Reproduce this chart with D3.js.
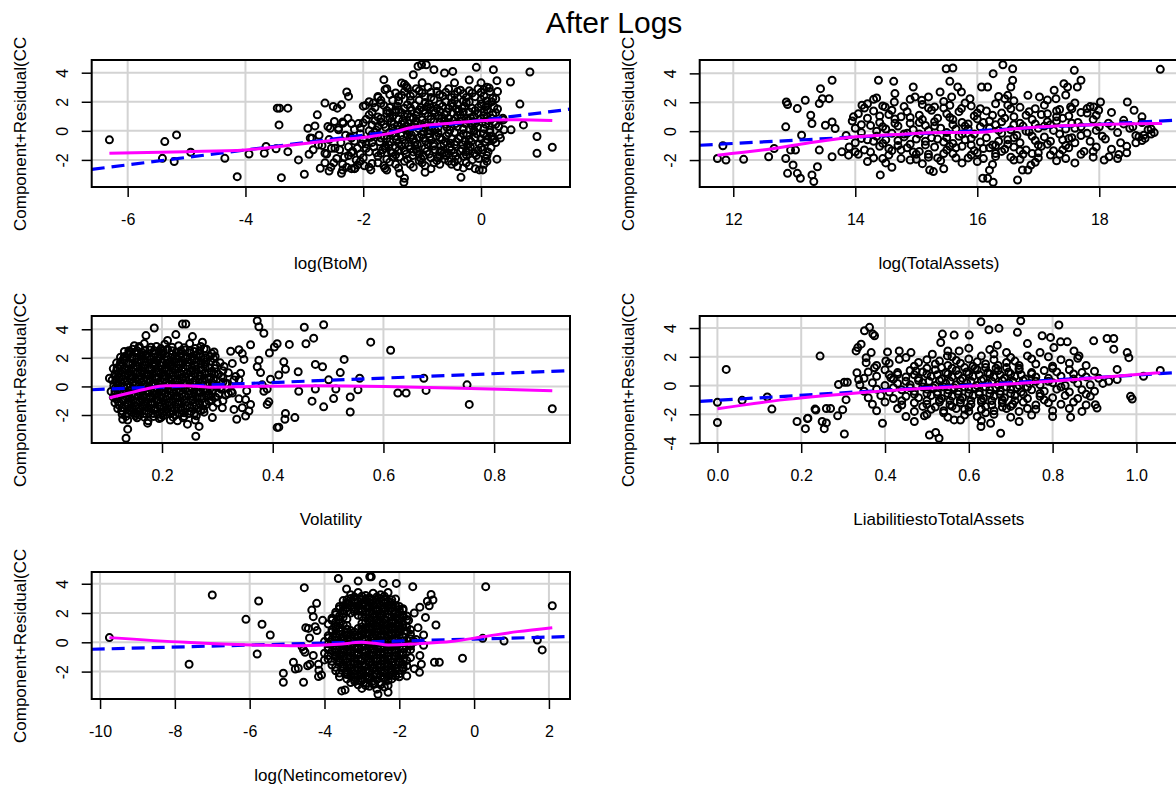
<!DOCTYPE html>
<html>
<head>
<meta charset="utf-8">
<script src="https://cdn.jsdelivr.net/npm/d3@7"></script>
<style>
  body { margin: 0; background: #fff; }
  svg { display: block; }
</style>
</head>
<body>
<svg id="chart" width="1176" height="785"></svg>
<script>
// ---- Component + residual data, one array per predictor ----
const chartTitle = "After Logs";
const yLabel = "Component+Residual(CC";

const btomLabel = "log(BtoM)";
const btomTicks = [-6, -4, -2, 0];
const btomFit = [0.72, 0.51];            // intercept, slope
const btomSmooth = [[-6.31,-1.54],[-5.01,-1.43],[-4.0,-1.31],[-3.21,-0.97],[-2.42,-0.62],[-1.86,-0.39],[-1.46,-0.09],[-1.24,0.18],[-0.96,0.37],[-0.51,0.53],[0,0.69],[0.62,0.76],[1.21,0.71]];
const btomPoints = [
[-6.31,-0.62],[-5.37,-0.74],[-5.17,-0.28],[-5.41,-1.89],[-5.21,-2.11],[-4.93,-1.47],[-4.35,-1.89],[-4.14,-3.15],[-3.94,-1.59],[-3.68,-1.54],[-3.65,-1.08],[-3.46,1.56],[-3.42,1.56],[-3.28,1.56],[-3.43,0.41],[-3.48,-1.24],[-3.28,-1.43],[-3.39,-3.22],[-3.10,-2.0],[-3.0,-2.99],[-2.92,-1.61],[-2.94,0.18],[-2.82,0.34],[-2.78,1.10],[-2.65,1.91],[-2.51,1.68],[-2.44,1.56],[-2.37,1.79],[-2.28,2.67],[-2.25,2.37],
[-2.73,-2.57],[-2.58,-2.76],[-2.37,-2.92],[-2.14,-2.57],[-1.87,-2.69],[-1.63,-2.57],[-2.87,-0.51],[-2.76,-0.97],[-2.65,-1.54],[-2.54,-1.2],[-2.56,0.18],[-2.49,0.64],[-2.42,0.07],[-2.34,0.53],[-2.26,0.87],[-1.96,1.75],[-1.83,1.91],[-1.75,2.37],[-1.63,2.83],[-1.65,3.52],
[-1.35,3.29],[-1.27,3.06],[-1.15,3.86],[-1.07,4.44],[-1.01,4.55],[-0.93,4.55],[-0.80,4.21],[-0.62,3.98],[-0.48,4.09],[-0.08,4.37],[0.21,4.21],[0.27,3.45],[0.50,3.36],[0.83,4.05],
[0.66,1.84],[0.72,0.41],[0.95,-0.39],[1.21,-1.13],[0.95,-1.54],[0.27,-1.95],[0.2,-0.62],[0.31,-0.28],[0.39,0.07],[0.51,0.07],[0.37,0.87],[0.14,2.94],[0.2,2.25],[0.28,2.71],
[-1.38,-2.92],[-1.31,-3.54],[-1.30,-3.26],[-0.34,-3.2],[-0.03,-2.69],[0.03,-2.69],
[-1.3,3.2],[-1.0,3.3],[-0.75,3.1],[-0.45,3.3],[-0.2,3.5],[0.0,3.3],[0.1,3.0],
[-1.6,2.9],[-1.45,2.6],[-1.3,2.7],[-1.2,2.4],[-1.1,2.9],[-1.0,2.6],[-0.9,3.0],[-0.85,2.3],[-0.75,2.7],[-0.65,2.4],[-0.55,2.9],[-0.45,2.5],[-0.35,2.8],[-0.25,2.3],[-0.15,2.6],[-0.05,2.9],[0.05,2.4],[0.15,2.7],[0.25,2.2],[-1.5,2.1],[-1.05,2.1],[-0.6,2.0],[-0.2,2.0],[0.1,2.05],[-1.75,2.3],[-1.9,2.0],
[-2.0,1.7],[-1.85,1.3],[-1.7,1.9],[-1.6,1.4],[-1.5,1.0],[-1.42,1.7],[-1.35,1.25],[-1.25,1.8],[-1.18,1.4],[-1.1,1.05],[-1.02,1.6],[-0.95,1.2],[-0.88,1.85],[-0.8,1.4],[-0.72,1.05],[-0.65,1.7],[-0.58,1.3],[-0.5,1.9],[-0.42,1.5],[-0.35,1.1],[-0.28,1.7],[-0.2,1.3],[-0.12,1.0],[-0.05,1.6],[0.05,1.3],[0.12,1.8],[0.2,1.1],[0.28,1.5],[-1.55,1.6],[-1.3,1.0],[-0.75,1.55],[-0.4,1.85],
[-2.2,0.5],[-2.05,0.2],[-1.95,0.8],[-1.85,0.4],[-1.78,0.05],[-1.7,0.6],[-1.62,0.25],[-1.55,0.9],[-1.48,0.45],[-1.4,0.1],[-1.33,0.7],[-1.26,0.3],[-1.2,0.95],[-1.13,0.5],[-1.06,0.15],[-1.0,0.75],[-0.93,0.35],[-0.87,0.0],[-0.8,0.6],[-0.73,0.2],[-0.67,0.85],[-0.6,0.45],[-0.53,0.05],[-0.47,0.7],[-0.4,0.3],[-0.33,0.9],[-0.27,0.5],[-0.2,0.1],[-0.13,0.65],[-0.06,0.25],[0.0,0.85],[0.08,0.45],[0.15,0.05],[0.22,0.6],[0.3,0.3],[0.38,0.75],[-1.9,0.0],[-1.35,0.45],[-0.98,0.25],[-0.55,0.55],[-0.15,0.35],
[-2.3,-0.3],[-2.15,-0.7],[-2.05,-0.2],[-1.95,-0.9],[-1.87,-0.45],[-1.8,-0.1],[-1.72,-0.75],[-1.65,-0.35],[-1.57,-0.95],[-1.5,-0.15],[-1.43,-0.6],[-1.36,-0.3],[-1.29,-0.85],[-1.22,-0.1],[-1.15,-0.55],[-1.08,-0.95],[-1.01,-0.25],[-0.94,-0.7],[-0.87,-0.4],[-0.8,-0.9],[-0.73,-0.15],[-0.66,-0.6],[-0.59,-0.35],[-0.52,-0.85],[-0.45,-0.1],[-0.38,-0.55],[-0.31,-0.95],[-0.24,-0.3],[-0.17,-0.75],[-0.1,-0.45],[-0.03,-0.9],[0.04,-0.2],[0.11,-0.6],[0.18,-0.35],[0.25,-0.8],[0.33,-0.5],[-1.6,-0.55],[-1.2,-0.45],[-0.9,-0.2],[-0.6,-0.75],[-0.3,-0.2],
[-2.4,-1.3],[-2.25,-1.7],[-2.1,-1.2],[-2.0,-1.85],[-1.9,-1.45],[-1.82,-1.1],[-1.75,-1.75],[-1.67,-1.3],[-1.6,-1.95],[-1.52,-1.5],[-1.45,-1.15],[-1.38,-1.8],[-1.3,-1.35],[-1.23,-1.05],[-1.16,-1.7],[-1.09,-1.4],[-1.02,-1.9],[-0.95,-1.2],[-0.88,-1.6],[-0.81,-1.05],[-0.74,-1.85],[-0.67,-1.35],[-0.6,-1.7],[-0.53,-1.15],[-0.46,-1.5],[-0.39,-1.95],[-0.32,-1.25],[-0.25,-1.65],[-0.18,-1.1],[-0.11,-1.55],[-0.04,-1.9],[0.03,-1.3],[0.1,-1.7],[0.17,-1.15],[-1.5,-1.5],[-1.1,-1.25],[-0.7,-1.45],[-0.3,-1.75],
[-2.35,-2.3],[-2.2,-2.6],[-2.05,-2.1],[-1.9,-2.5],[-1.75,-2.2],[-1.6,-2.7],[-1.45,-2.3],[-1.3,-2.1],[-1.15,-2.5],[-1.0,-2.2],[-0.85,-2.6],[-0.7,-2.3],[-0.55,-2.1],[-0.4,-2.45],[-0.25,-2.2],[-0.1,-2.6],[0.05,-2.3],[-0.95,-2.85],
[-2.75,-0.3],[-2.7,-1.0],[-2.62,-1.6],[-2.58,-0.6],[-2.5,-2.2],[-2.48,-1.2],[-2.42,0.2],[-2.38,-0.8],[-2.32,-1.8],[-2.28,-2.5],[-2.22,-0.4],[-2.18,-1.4],[-2.12,-2.0],[-2.08,0.5],[-2.02,-0.9],[-1.98,-2.4],[-2.55,-2.5],[-2.35,-2.7],[-2.15,-2.6],[-2.65,-2.2],[-2.45,-1.9],[-2.25,-1.1],[-2.6,0.3],[-2.35,0.6],[-2.15,0.1],[-2.9,-0.5],[-2.85,-1.3],
[-1.4,2.35],[-1.15,2.55],[-0.95,2.35],[-0.7,2.5],[-0.5,2.3],[-0.3,2.55],[-0.1,2.35],[0.0,2.65],
[-1.8,1.6],[-1.65,1.75],[-1.45,1.45],[-1.3,1.55],[-1.12,1.75],[-0.98,1.4],[-0.85,1.6],[-0.7,1.85],[-0.55,1.55],[-0.38,1.35],[-0.25,1.95],[-0.15,1.55],[0.0,1.85],[0.1,1.45],[0.22,1.65],
[-1.9,1.1],[-1.75,0.95],[-1.6,1.2],[-1.45,1.3],[-1.25,1.15],[-1.08,1.3],[-0.9,1.0],[-0.78,1.25],[-0.62,1.1],[-0.48,1.25],[-0.3,1.3],[-0.18,0.9],[-0.05,1.2],[0.1,1.0],[0.25,1.25],
[-2.0,0.55],[-1.8,0.7],[-1.65,0.45],[-1.52,0.65],[-1.42,0.35],[-1.3,0.55],[-1.18,0.25],[-1.1,0.7],[-0.95,0.55],[-0.83,0.3],[-0.7,0.6],[-0.58,0.25],[-0.43,0.5],[-0.3,0.15],[-0.22,0.7],[-0.1,0.5],[0.05,0.15],[0.12,0.7],[0.25,0.45],
[-2.2,-0.5],[-2.0,-0.6],[-1.85,-0.25],[-1.7,-0.5],[-1.55,-0.75],[-1.45,-0.35],[-1.33,-0.6],[-1.25,-0.3],[-1.12,-0.8],[-1.05,-0.45],[-0.97,-0.05],[-0.85,-0.65],[-0.76,-0.35],[-0.63,-0.9],[-0.55,-0.15],[-0.42,-0.75],[-0.35,-0.4],[-0.2,-0.6],[-0.07,-0.2],[0.07,-0.75],[0.15,-0.1],[0.22,-0.55],
[-2.2,-1.5],[-2.05,-1.6],[-1.95,-1.2],[-1.78,-1.5],[-1.63,-1.2],[-1.5,-1.8],[-1.4,-1.35],[-1.27,-1.6],[-1.2,-1.25],[-1.05,-1.6],[-0.92,-1.4],[-0.85,-1.85],[-0.78,-1.3],[-0.63,-1.55],[-0.5,-1.3],[-0.43,-1.75],[-0.35,-1.4],[-0.2,-1.35],[-0.08,-1.7],[0.0,-1.15],[0.12,-1.45],
[-2.1,-2.35],[-1.85,-2.25],[-1.65,-2.4],[-1.4,-2.55],[-1.2,-2.3],[-0.95,-2.4],[-0.75,-2.05],[-0.5,-2.3],[-0.3,-2.55],[-0.15,-2.0],[0.1,-2.1],
[-1.55,2.5],[-1.35,2.45],[-1.25,2.95],[-1.05,2.75],[-0.85,2.65],[-0.6,2.65],[-0.4,2.7],[-0.2,2.75],[0.05,2.85],
[-1.7,2.1],[-1.4,2.05],[-1.2,2.1],[-0.95,1.95],[-0.8,2.15],[-0.45,2.1],[-0.3,2.05],[0.0,2.15],[0.18,2.0],
[-1.55,1.25],[-1.4,1.45],[-1.2,1.6],[-1.05,1.45],[-0.92,1.65],[-0.7,1.35],[-0.48,1.7],[-0.32,1.55],[-0.1,1.4],[0.08,1.65],
[-1.7,0.85],[-1.4,0.8],[-1.15,0.85],[-0.85,0.8],[-0.55,0.85],[-0.4,1.05],[-0.25,0.85],[0.05,1.05],[0.18,0.85],
[-1.75,0.3],[-1.5,0.2],[-1.25,0.05],[-1.02,0.45],[-0.78,0.05],[-0.62,0.7],[-0.35,0.6],[-0.12,0.05],[0.02,0.6],
[-1.75,-0.3],[-1.55,-0.1],[-1.4,-0.85],[-1.18,-0.3],[-0.98,-0.5],[-0.7,-0.45],[-0.5,-0.55],[-0.27,-0.7],[-0.12,-0.05],[0.1,-0.35],
[-1.85,-0.8],[-1.62,-1.05],[-1.35,-1.05],[-1.12,-1.05],[-0.9,-0.95],[-0.68,-1.05],[-0.45,-0.95],[-0.22,-0.95],[0.0,-0.55],
[-1.7,-1.55],[-1.45,-1.65],[-1.15,-1.45],[-0.98,-1.75],[-0.7,-1.75],[-0.55,-1.55],[-0.25,-1.45],[-0.05,-1.35],[0.08,-1.9],
[-1.55,-2.15],[-1.25,-1.95],[-1.05,-2.05],[-0.8,-2.2],[-0.62,-1.95],[-0.45,-2.15],[-0.2,-2.4]
];

const assetsLabel = "log(TotalAssets)";
const assetsTicks = [12, 14, 16, 18];
const assetsFit = [-3.516, 0.222];
const assetsSmooth = [[11.74,-1.66],[12.48,-1.31],[13.18,-0.85],[14.0,-0.39],[14.65,-0.23],[15.47,-0.09],[16.0,-0.09],[16.55,0.14],[17.37,0.37],[18.18,0.48],[19.03,0.53]];
const assetsPoints = [
[11.74,-1.89],[11.88,-2.0],[11.83,-1.01],[12.17,-1.95],[12.58,-1.77],[12.67,-1.2],[12.86,0.30],[12.87,2.02],[12.89,1.84],[12.86,-1.89],[12.89,-2.92],[12.98,-2.34],[13.05,-2.92],[13.10,-3.26],[13.02,-1.31],[12.94,-1.31],[13.12,-0.28],
[13.05,1.56],[13.18,2.14],[13.27,1.10],[13.29,0.53],[13.43,2.94],[13.41,1.91],[13.46,2.25],[13.57,2.25],[13.62,3.52],[13.51,0.41],[13.62,0.64],[13.67,0.18],[13.41,-1.31],[13.62,-1.77],[13.32,-3.49],[13.38,-2.46],[13.29,-3.03],
[13.78,-1.43],[13.89,-1.66],[14.0,-1.43],[13.97,0.99],[14.11,1.79],[14.38,3.52],[14.63,3.45],[14.35,2.30],[14.49,1.68],[14.65,2.60],[14.64,2.02],[14.95,3.06],[14.98,2.37],[15.09,2.14],[15.2,2.37],[15.3,1.68],[15.39,2.71],[15.49,4.32],[15.6,4.37],[15.55,3.45],[15.68,3.06],[15.74,2.71],[15.58,2.37],[15.88,2.25],[15.74,1.56],[15.55,1.79],
[15.22,-2.69],[15.28,-2.80],[14.41,-3.03],
[16.07,3.06],[16.17,3.06],[16.26,3.98],[16.42,4.60],[16.58,4.32],[16.58,3.52],[16.55,3.06],[16.5,2.48],[16.45,2.25],
[16.09,-3.26],[16.26,-3.54],[16.17,-3.26],[16.66,-3.38],[16.74,-2.69],[16.88,-2.34],[16.83,-2.69],
[16.83,2.48],[17.02,2.37],[17.26,2.83],[17.29,2.25],[17.42,3.29],[17.48,3.06],[17.59,4.21],[17.7,3.52],[17.64,3.06],[17.53,1.68],
[17.8,1.56],[17.91,1.68],[18.02,2.02],[17.99,1.45],[18.46,2.02],[18.57,1.45],[18.7,0.99],
[18.08,-2.0],[18.16,-1.77],[18.32,-1.61],[19.0,4.28],[18.65,-0.39],[18.73,-0.28],
[18.4,0.5],[18.55,0.3],[18.7,0.6],[18.85,0.15],[18.9,-0.1],[18.75,-0.5],[18.6,-0.8],[18.45,-1.5],[18.3,-1.9],
[14.2,1.9],[14.8,1.7],[15.1,1.85],[15.45,1.6],[15.9,1.75],[16.3,1.9],[16.7,1.65],[17.1,1.8],[17.35,1.5],[17.6,1.95],[17.85,1.7],
[14.05,1.2],[14.3,1.4],[14.55,1.15],[14.85,1.35],[15.05,1.1],[15.25,1.45],[15.5,1.2],[15.7,1.35],[15.95,1.05],[16.15,1.4],[16.4,1.25],[16.6,1.0],[16.85,1.35],[17.05,1.15],[17.3,1.4],[17.5,1.05],[17.7,1.3],[17.95,1.1],[18.2,1.3],
[13.95,0.7],[14.2,0.9],[14.4,0.6],[14.65,0.85],[14.9,0.55],[15.1,0.8],[15.3,0.65],[15.55,0.95],[15.75,0.6],[16.0,0.85],[16.2,0.7],[16.45,0.9],[16.7,0.55],[16.9,0.8],[17.15,0.65],[17.4,0.9],[17.65,0.6],[17.9,0.8],[18.15,0.55],[18.4,0.75],
[14.0,0.2],[14.25,0.4],[14.5,0.15],[14.7,0.35],[14.95,0.1],[15.15,0.4],[15.4,0.2],[15.6,0.45],[15.85,0.15],[16.05,0.3],[16.3,0.45],[16.55,0.1],[16.75,0.35],[17.0,0.2],[17.2,0.45],[17.45,0.15],[17.7,0.3],[17.95,0.05],[18.2,0.35],[18.5,0.2],[18.8,0.1],
[13.85,-0.3],[14.1,-0.1],[14.35,-0.35],[14.6,-0.15],[14.8,-0.4],[15.05,-0.2],[15.25,-0.45],[15.5,-0.1],[15.7,-0.35],[15.95,-0.2],[16.15,-0.45],[16.4,-0.15],[16.65,-0.3],[16.85,-0.05],[17.1,-0.4],[17.35,-0.2],[17.55,-0.45],[17.8,-0.15],[18.05,-0.35],[18.3,-0.1],[18.6,-0.3],[18.85,-0.2],
[14.0,-0.8],[14.2,-0.6],[14.45,-0.85],[14.7,-0.65],[14.9,-0.9],[15.15,-0.7],[15.35,-0.55],[15.6,-0.85],[15.8,-0.6],[16.05,-0.75],[16.25,-0.95],[16.5,-0.6],[16.7,-0.8],[16.95,-0.65],[17.15,-0.9],[17.4,-0.6],[17.6,-0.8],[17.85,-0.7],[18.1,-0.55],[18.35,-0.8],[18.7,-0.65],
[13.9,-1.1],[14.15,-1.3],[14.4,-1.05],[14.6,-1.35],[14.85,-1.15],[15.05,-1.4],[15.3,-1.1],[15.5,-1.3],[15.75,-1.05],[15.95,-1.35],[16.2,-1.15],[16.4,-1.4],[16.6,-1.1],[16.8,-1.3],[17.05,-1.05],[17.25,-1.35],[17.5,-1.15],[17.75,-1.4],[17.95,-1.1],[18.2,-1.25],[18.45,-1.05],
[14.05,-1.6],[14.3,-1.85],[14.55,-1.65],[14.75,-1.9],[15.0,-1.6],[15.2,-1.8],[15.45,-1.55],[15.65,-1.85],[15.9,-1.65],[16.1,-1.9],[16.3,-1.55],[16.55,-1.8],[16.75,-1.6],[17.0,-1.85],[17.2,-1.65],[17.45,-1.9],[17.7,-1.6],[17.9,-1.8],
[14.2,-2.1],[14.5,-2.2],[14.9,-2.0],[15.1,-2.25],[15.4,-2.05],[15.75,-2.2],[16.0,-2.1],[16.25,-2.3],[16.6,-2.0],[16.95,-2.15],[17.3,-2.05],[17.6,-2.2],
[14.6,-2.5],[15.45,-2.6],[16.2,-2.7],[14.35,0.0],[15.0,-0.55],[15.85,0.5],[16.35,-0.7],[14.75,-1.3],[15.6,-1.55],[16.55,1.55],[17.25,0.05],
[14.15,1.6],[14.45,1.75],[14.6,1.45],[15.2,1.6],[15.8,1.95],[16.05,1.55],[16.5,1.8],[16.95,1.55],
[14.1,-0.5],[14.5,-0.6],[14.65,0.55],[15.2,0.05],[15.45,-0.75],[15.9,-0.95],[16.1,0.6],[16.35,0.05],[16.6,-0.45],[16.95,0.5],[17.5,-0.5],[17.3,0.7],
[14.25,-1.45],[14.7,-1.0],[15.2,-1.6],[15.55,-1.05],[16.0,-1.5],[16.45,-1.25],[16.9,-1.55],[17.35,-1.6],
[14.4,1.05],[14.9,0.95],[15.35,0.9],[15.65,0.15],[16.25,1.1],[16.8,0.0],[17.15,1.2],[17.6,0.2],[17.55,1.55],[17.4,-1.3],[16.7,-1.95],[15.85,-1.85],[15.0,-1.95],[14.45,-1.9],[14.85,-0.15],[15.75,-0.2],[16.3,-1.0],[17.0,-0.95],
[14.1,0.45],[14.3,-0.7],[14.45,0.3],[14.55,-1.2],[14.75,1.0],[14.8,-0.2],[14.95,-1.45],[15.05,0.6],[15.15,-0.95],[15.3,0.35],[15.35,-1.85],[15.5,-0.45],[15.6,0.8],[15.65,-1.15],[15.8,0.35],[15.9,-0.5],[16.0,1.25],[16.1,-1.2],[16.2,0.2],[16.3,-1.75],[16.4,0.65],[16.5,-0.9],[16.6,0.45],[16.7,-1.35],[16.8,1.1],[16.9,-0.35],[17.0,-1.5],[17.1,0.35],[17.2,-0.7],[17.3,1.0],[17.45,-1.0],[17.55,0.55],[17.7,-0.3],[17.8,1.25],[17.9,-1.4],[18.0,0.3],
[14.3,2.2],[14.9,2.2],[15.45,2.05],[16.35,2.4],[16.6,2.1],[17.15,2.15],[17.45,2.5]
];

const volLabel = "Volatility";
const volTicks = [0.2, 0.4, 0.6, 0.8];
const volFit = [-0.345, 1.55];
const volSmooth = [[0.105,-0.80],[0.141,-0.46],[0.171,-0.18],[0.207,0.05],[0.243,0.05],[0.291,-0.05],[0.363,0],[0.483,0.05],[0.602,0],[0.722,-0.11],[0.905,-0.30]];
const volPoints = [
[0.105,0.57],[0.186,4.09],[0.237,4.37],[0.243,4.37],[0.171,3.56],[0.225,3.63],[0.255,3.49],[0.159,2.80],[0.141,2.41],[0.21,3.22],[0.273,3.10],[0.294,2.41],[0.276,2.64],
[0.135,-3.63],[0.138,-2.99],[0.129,-2.30],[0.174,-2.57],[0.198,-2.18],[0.228,-2.41],[0.246,-2.64],[0.261,-3.49],[0.267,-2.80],[0.291,-2.18],[0.309,-1.49],
[0.15,2.85],[0.168,3.0],[0.19,2.8],[0.205,2.95],[0.23,2.85],[0.25,3.0],[0.27,2.8],
[0.132,2.45],[0.147,2.6],[0.163,2.4],[0.178,2.55],[0.194,2.45],[0.21,2.6],[0.226,2.4],[0.242,2.55],[0.258,2.45],[0.28,2.6],
[0.125,2.05],[0.139,2.2],[0.154,2.0],[0.17,2.15],[0.185,2.05],[0.2,2.2],[0.216,2.0],[0.231,2.15],[0.246,2.05],[0.262,2.2],[0.278,2.0],[0.296,2.1],
[0.118,1.65],[0.132,1.8],[0.147,1.6],[0.162,1.75],[0.177,1.65],[0.192,1.8],[0.208,1.6],[0.223,1.75],[0.238,1.65],[0.254,1.8],[0.27,1.6],[0.288,1.75],[0.305,1.65],
[0.112,1.25],[0.125,1.4],[0.14,1.2],[0.155,1.35],[0.17,1.25],[0.185,1.4],[0.2,1.2],[0.215,1.35],[0.23,1.25],[0.246,1.4],[0.262,1.2],[0.278,1.35],[0.295,1.25],[0.312,1.4],
[0.115,0.85],[0.13,1.0],[0.145,0.8],[0.16,0.95],[0.175,0.85],[0.19,1.0],[0.205,0.8],[0.22,0.95],[0.236,0.85],[0.252,1.0],[0.268,0.8],[0.285,0.95],[0.302,0.85],[0.32,0.95],
[0.11,0.45],[0.123,0.6],[0.137,0.4],[0.152,0.55],[0.167,0.45],[0.182,0.6],[0.197,0.4],[0.212,0.55],[0.228,0.45],[0.243,0.6],[0.259,0.4],[0.276,0.55],[0.293,0.45],[0.31,0.6],[0.33,0.45],
[0.113,0.05],[0.128,0.2],[0.143,0.0],[0.158,0.15],[0.173,0.05],[0.188,0.2],[0.203,0.0],[0.218,0.15],[0.234,0.05],[0.25,0.2],[0.266,0.0],[0.282,0.15],[0.3,0.05],[0.318,0.2],
[0.108,-0.35],[0.121,-0.2],[0.135,-0.4],[0.15,-0.25],[0.165,-0.35],[0.18,-0.2],[0.195,-0.4],[0.21,-0.25],[0.226,-0.35],[0.242,-0.2],[0.258,-0.4],[0.274,-0.25],[0.29,-0.35],[0.307,-0.2],[0.325,-0.35],
[0.112,-0.75],[0.127,-0.6],[0.142,-0.8],[0.157,-0.65],[0.172,-0.75],[0.187,-0.6],[0.202,-0.8],[0.217,-0.65],[0.232,-0.75],[0.248,-0.6],[0.264,-0.8],[0.28,-0.65],[0.297,-0.75],[0.315,-0.6],
[0.115,-1.15],[0.13,-1.0],[0.145,-1.2],[0.16,-1.05],[0.175,-1.15],[0.19,-1.0],[0.205,-1.2],[0.22,-1.05],[0.236,-1.15],[0.252,-1.0],[0.268,-1.2],[0.285,-1.05],[0.3,-1.15],
[0.12,-1.55],[0.135,-1.4],[0.15,-1.6],[0.165,-1.45],[0.18,-1.55],[0.195,-1.4],[0.21,-1.6],[0.226,-1.45],[0.242,-1.55],[0.258,-1.4],[0.275,-1.6],[0.292,-1.45],
[0.128,-1.95],[0.145,-1.8],[0.16,-2.0],[0.176,-1.85],[0.192,-1.95],[0.208,-1.8],[0.224,-2.0],[0.24,-1.85],[0.258,-1.95],[0.276,-1.8],
[0.138,-2.35],[0.155,-2.2],[0.175,-2.4],[0.195,-2.25],[0.215,-2.35],[0.238,-2.2],[0.26,-2.35],
[0.158,2.7],[0.18,2.75],[0.198,2.65],[0.218,2.75],[0.24,2.7],[0.26,2.65],
[0.14,2.3],[0.155,2.35],[0.171,2.25],[0.186,2.3],[0.202,2.35],[0.218,2.25],[0.234,2.3],[0.25,2.35],[0.268,2.25],[0.29,2.3],
[0.13,1.9],[0.146,1.95],[0.162,1.85],[0.178,1.9],[0.194,1.95],[0.21,1.85],[0.226,1.9],[0.242,1.95],[0.258,1.85],[0.275,1.9],[0.293,1.95],
[0.125,1.5],[0.139,1.55],[0.154,1.45],[0.169,1.5],[0.184,1.55],[0.2,1.45],[0.215,1.5],[0.23,1.55],[0.245,1.45],[0.26,1.5],[0.277,1.55],[0.297,1.5],
[0.118,1.1],[0.133,1.15],[0.148,1.05],[0.163,1.1],[0.178,1.15],[0.193,1.05],[0.208,1.1],[0.223,1.15],[0.239,1.05],[0.255,1.1],[0.271,1.15],[0.29,1.05],[0.31,1.1],
[0.116,0.7],[0.131,0.75],[0.146,0.65],[0.161,0.7],[0.176,0.75],[0.191,0.65],[0.206,0.7],[0.221,0.75],[0.237,0.65],[0.253,0.7],[0.27,0.75],[0.288,0.65],[0.307,0.7],
[0.118,0.3],[0.133,0.35],[0.148,0.25],[0.163,0.3],[0.178,0.35],[0.193,0.25],[0.208,0.3],[0.224,0.35],[0.24,0.25],[0.256,0.3],[0.273,0.35],[0.291,0.25],[0.31,0.3],
[0.116,-0.1],[0.131,-0.05],[0.146,-0.15],[0.161,-0.1],[0.176,-0.05],[0.191,-0.15],[0.206,-0.1],[0.222,-0.05],[0.238,-0.15],[0.254,-0.1],[0.27,-0.05],[0.287,-0.15],[0.305,-0.1],
[0.115,-0.5],[0.13,-0.45],[0.145,-0.55],[0.16,-0.5],[0.175,-0.45],[0.19,-0.55],[0.205,-0.5],[0.22,-0.45],[0.236,-0.55],[0.252,-0.5],[0.268,-0.45],[0.285,-0.55],[0.303,-0.5],
[0.118,-0.9],[0.133,-0.85],[0.148,-0.95],[0.163,-0.9],[0.178,-0.85],[0.193,-0.95],[0.208,-0.9],[0.224,-0.85],[0.24,-0.95],[0.256,-0.9],[0.272,-0.85],[0.29,-0.95],
[0.122,-1.3],[0.137,-1.25],[0.152,-1.35],[0.167,-1.3],[0.182,-1.25],[0.197,-1.35],[0.213,-1.3],[0.229,-1.25],[0.245,-1.35],[0.262,-1.3],[0.28,-1.25],
[0.127,-1.7],[0.142,-1.65],[0.157,-1.75],[0.172,-1.7],[0.187,-1.65],[0.203,-1.75],[0.219,-1.7],[0.235,-1.65],[0.252,-1.75],[0.27,-1.7],
[0.135,-2.1],[0.152,-2.05],[0.168,-2.15],[0.185,-2.1],[0.202,-2.05],[0.22,-2.15],[0.24,-2.1],[0.262,-2.05],
[0.14,2.5],[0.155,2.5],[0.17,2.5],[0.186,2.5],[0.202,2.5],[0.218,2.5],[0.234,2.5],[0.25,2.5],[0.268,2.5],
[0.132,2.1],[0.146,2.1],[0.162,2.1],[0.177,2.1],[0.192,2.1],[0.208,2.1],[0.224,2.1],[0.238,2.1],[0.254,2.1],[0.27,2.1],[0.287,2.1],
[0.125,1.7],[0.14,1.7],[0.155,1.7],[0.17,1.7],[0.185,1.7],[0.2,1.7],[0.215,1.7],[0.23,1.7],[0.246,1.7],[0.262,1.7],[0.279,1.7],
[0.119,1.3],[0.133,1.3],[0.148,1.3],[0.163,1.3],[0.178,1.3],[0.193,1.3],[0.208,1.3],[0.222,1.3],[0.238,1.3],[0.254,1.3],[0.27,1.3],[0.286,1.3],
[0.122,0.9],[0.138,0.9],[0.153,0.9],[0.168,0.9],[0.183,0.9],[0.198,0.9],[0.213,0.9],[0.228,0.9],[0.244,0.9],[0.26,0.9],[0.277,0.9],[0.294,0.9],
[0.117,0.5],[0.13,0.5],[0.145,0.5],[0.16,0.5],[0.175,0.5],[0.19,0.5],[0.205,0.5],[0.22,0.5],[0.236,0.5],[0.251,0.5],[0.268,0.5],[0.285,0.5],
[0.12,0.1],[0.136,0.1],[0.151,0.1],[0.166,0.1],[0.181,0.1],[0.196,0.1],[0.211,0.1],[0.226,0.1],[0.242,0.1],[0.258,0.1],[0.274,0.1],[0.291,0.1],
[0.115,-0.3],[0.128,-0.3],[0.143,-0.3],[0.158,-0.3],[0.173,-0.3],[0.188,-0.3],[0.203,-0.3],[0.218,-0.3],[0.234,-0.3],[0.25,-0.3],[0.266,-0.3],[0.282,-0.3],
[0.12,-0.7],[0.135,-0.7],[0.15,-0.7],[0.165,-0.7],[0.18,-0.7],[0.195,-0.7],[0.21,-0.7],[0.225,-0.7],[0.24,-0.7],[0.256,-0.7],[0.272,-0.7],[0.289,-0.7],
[0.122,-1.1],[0.138,-1.1],[0.153,-1.1],[0.168,-1.1],[0.183,-1.1],[0.198,-1.1],[0.213,-1.1],[0.228,-1.1],[0.244,-1.1],[0.26,-1.1],[0.277,-1.1],
[0.128,-1.5],[0.143,-1.5],[0.158,-1.5],[0.173,-1.5],[0.188,-1.5],[0.203,-1.5],[0.218,-1.5],[0.234,-1.5],[0.25,-1.5],[0.266,-1.5],
[0.137,-1.9],[0.153,-1.9],[0.168,-1.9],[0.184,-1.9],[0.2,-1.9],[0.216,-1.9],[0.232,-1.9],[0.249,-1.9],
[0.351,-2.07],[0.357,-1.72],[0.345,-1.49],[0.36,-1.26],[0.351,-0.92],[0.339,-0.87],[0.33,-1.61],[0.327,-0.46],[0.339,0.46],[0.342,0.92],[0.348,1.89],[0.339,2.57],[0.324,2.46],[0.327,1.61],[0.345,2.30],
[0.372,4.6],[0.375,4.18],[0.384,3.72],[0.36,2.92],[0.375,1.84],[0.372,1.38],[0.378,0.97],[0.381,0.11],
[0.43,2.94],[0.42,1.72],[0.423,1.2],[0.408,2.99],[0.403,2.76],[0.394,2.34],[0.411,0.80],[0.396,0.51],[0.39,-0.18],[0.384,-0.34],[0.39,-1.26],[0.393,-1.08],[0.423,-1.89],[0.422,-2.30],[0.44,-2.18],[0.408,-2.87],[0.411,-2.85],
[0.492,4.32],[0.457,4.14],[0.474,3.38],[0.46,2.99],[0.477,1.54],[0.49,1.38],[0.492,-1.43],[0.471,-1.03],[0.477,-0.18],[0.447,-0.34],[0.446,1.03],
[0.554,-0.23],[0.557,0.57],[0.54,-0.74],[0.522,0.97],[0.529,1.89],[0.51,-0.85],[0.514,-0.18],[0.501,0.46],
[0.577,3.10],[0.613,2.53],[0.626,-0.46],[0.641,-0.46],[0.673,0.57],[0.677,-0.28],[0.751,0.11],[0.755,-1.26],[0.905,-1.56],[0.54,-1.79],
[0.31,-1.0],[0.315,0.2],[0.32,-0.5],[0.333,0.7],[0.335,-2.3],[0.353,-0.3]
];

const liabLabel = "LiabilitiestoTotalAssets";
const liabTicks = [0.0, 0.2, 0.4, 0.6, 0.8, 1.0];
const liabFit = [-1.03, 1.76];
const liabSmooth = [[0,-1.61],[0.16,-0.98],[0.319,-0.56],[0.478,-0.23],[0.597,-0.05],[0.716,0.14],[0.875,0.47],[1.057,0.89]];
const liabPoints = [
[0,-1.17],[0,-2.57],[0.021,1.12],[0.059,-1.03],[0.119,-0.80],[0.13,-1.64],
[0.19,-2.5],[0.21,-3.0],[0.215,-2.3],[0.235,-1.7],[0.245,2.05],[0.25,-2.5],[0.255,-3.0],[0.26,-2.6],[0.26,-1.6],[0.27,-1.6],
[0.287,-2.11],[0.289,0.07],[0.303,-3.37],[0.299,-1.68],[0.307,-0.98],[0.31,0.23],[0.303,0.23],[0.233,-1.64],[0.216,-2.27],
[0.331,2.41],[0.335,2.64],[0.343,2.88],[0.351,3.81],[0.363,4.05],[0.371,3.58],[0.375,3.46],[0.355,1.94],[0.355,1.59],[0.367,2.29],[0.375,1.24],[0.333,0.89],[0.337,0.42],
[0.394,-2.62],[0.402,1.71],[0.406,2.34],[0.434,2.41],[0.434,1.82],[0.462,2.29],[0.474,1.01],[0.414,0.54],[0.43,0.77],
[0.47,-2.50],[0.494,-2.11],[0.506,-3.44],[0.521,-3.27],[0.529,-3.67],[0.565,-2.39],
[0.537,3.58],[0.565,3.51],[0.513,2.18],[0.533,2.99],[0.549,2.06],[0.577,2.41],
[0.601,3.51],[0.629,4.44],[0.648,3.88],[0.672,3.98],[0.668,2.81],[0.716,3.70],[0.724,4.51],[0.74,2.92],[0.74,2.06],
[0.676,-3.32],[0.629,-2.85],[0.652,-2.62],
[0.775,3.46],[0.795,3.35],[0.815,4.21],[0.819,3.04],[0.835,3.04],[0.803,2.64],[0.851,2.41],[0.863,2.06],
[0.898,3.11],[0.93,3.27],[0.946,3.27],[0.946,2.53],[0.954,1.12],[0.978,2.29],[0.982,1.94],
[0.986,-0.75],[0.99,-0.94],[0.843,-2.20],[0.906,-1.57],[0.902,-1.33],[1.017,0.65],[1.057,1.05],[0.934,0.30],[0.954,0.42],
[0.45,1.95],[0.5,1.8],[0.56,2.0],[0.6,1.85],[0.63,2.05],[0.66,1.8],[0.7,1.95],[0.75,1.85],[0.79,2.0],[0.82,1.8],[0.86,1.9],
[0.38,1.4],[0.41,1.55],[0.47,1.35],[0.52,1.5],[0.55,1.4],[0.58,1.55],[0.61,1.35],[0.64,1.5],[0.67,1.4],[0.69,1.6],[0.72,1.4],[0.76,1.5],[0.8,1.35],[0.84,1.55],[0.88,1.4],
[0.36,0.95],[0.4,1.1],[0.43,0.9],[0.46,1.05],[0.49,0.95],[0.52,1.1],[0.545,0.9],[0.57,1.05],[0.595,0.95],[0.62,1.1],[0.645,0.9],[0.67,1.05],[0.695,0.95],[0.72,1.1],[0.75,0.9],[0.78,1.05],[0.81,0.95],[0.84,1.1],[0.87,0.9],[0.9,1.0],
[0.35,0.5],[0.38,0.65],[0.42,0.45],[0.45,0.6],[0.48,0.5],[0.51,0.65],[0.535,0.45],[0.56,0.6],[0.585,0.5],[0.61,0.65],[0.635,0.45],[0.66,0.6],[0.685,0.5],[0.71,0.65],[0.735,0.45],[0.76,0.6],[0.79,0.5],[0.82,0.65],[0.85,0.45],[0.88,0.6],[0.91,0.5],
[0.34,0.05],[0.37,0.2],[0.4,0.0],[0.43,0.15],[0.46,0.05],[0.49,0.2],[0.52,0.0],[0.545,0.15],[0.57,0.05],[0.595,0.2],[0.62,0.0],[0.645,0.15],[0.67,0.05],[0.695,0.2],[0.72,0.0],[0.745,0.15],[0.77,0.05],[0.8,0.2],[0.83,0.0],[0.86,0.15],[0.89,0.05],[0.92,0.15],
[0.35,-0.4],[0.38,-0.25],[0.41,-0.45],[0.44,-0.3],[0.47,-0.4],[0.5,-0.25],[0.525,-0.45],[0.55,-0.3],[0.575,-0.4],[0.6,-0.25],[0.625,-0.45],[0.65,-0.3],[0.675,-0.4],[0.7,-0.25],[0.725,-0.45],[0.75,-0.3],[0.78,-0.4],[0.81,-0.25],[0.84,-0.45],[0.87,-0.3],[0.9,-0.4],
[0.36,-0.85],[0.39,-0.7],[0.42,-0.9],[0.45,-0.75],[0.48,-0.85],[0.51,-0.7],[0.535,-0.9],[0.56,-0.75],[0.585,-0.85],[0.61,-0.7],[0.635,-0.9],[0.66,-0.75],[0.685,-0.85],[0.71,-0.7],[0.74,-0.9],[0.77,-0.75],[0.8,-0.85],[0.83,-0.7],[0.86,-0.9],[0.89,-0.75],
[0.37,-1.3],[0.4,-1.15],[0.44,-1.35],[0.47,-1.2],[0.5,-1.3],[0.53,-1.15],[0.555,-1.35],[0.58,-1.2],[0.605,-1.3],[0.63,-1.15],[0.655,-1.35],[0.68,-1.2],[0.705,-1.3],[0.73,-1.15],[0.76,-1.35],[0.79,-1.2],[0.82,-1.3],[0.85,-1.15],[0.88,-1.35],
[0.38,-1.75],[0.43,-1.6],[0.47,-1.8],[0.51,-1.65],[0.54,-1.75],[0.57,-1.6],[0.6,-1.8],[0.63,-1.65],[0.66,-1.75],[0.69,-1.6],[0.72,-1.8],[0.76,-1.65],[0.8,-1.75],[0.84,-1.6],[0.87,-1.8],
[0.45,-2.15],[0.5,-2.0],[0.55,-2.2],[0.59,-2.05],[0.62,-2.15],[0.66,-2.0],[0.7,-2.2],[0.75,-2.05],[0.8,-2.15],
[0.5,1.2],[0.535,1.25],[0.56,1.2],[0.59,1.25],[0.615,1.2],[0.64,1.25],[0.665,1.2],[0.69,1.25],[0.72,1.2],
[0.47,0.75],[0.5,0.8],[0.525,0.75],[0.55,0.8],[0.575,0.75],[0.6,0.8],[0.625,0.75],[0.65,0.8],[0.675,0.75],[0.7,0.8],[0.725,0.75],[0.75,0.8],
[0.45,0.3],[0.48,0.35],[0.505,0.3],[0.53,0.35],[0.555,0.3],[0.58,0.35],[0.605,0.3],[0.63,0.35],[0.655,0.3],[0.68,0.35],[0.705,0.3],[0.73,0.35],[0.76,0.3],
[0.46,-0.15],[0.49,-0.1],[0.515,-0.15],[0.54,-0.1],[0.565,-0.15],[0.59,-0.1],[0.615,-0.15],[0.64,-0.1],[0.665,-0.15],[0.69,-0.1],[0.715,-0.15],[0.74,-0.1],
[0.47,-0.6],[0.5,-0.55],[0.525,-0.6],[0.55,-0.55],[0.575,-0.6],[0.6,-0.55],[0.625,-0.6],[0.65,-0.55],[0.675,-0.6],[0.7,-0.55],[0.73,-0.6],
[0.5,-1.05],[0.53,-1.0],[0.555,-1.05],[0.58,-1.0],[0.605,-1.05],[0.63,-1.0],[0.655,-1.05],[0.68,-1.0],[0.71,-1.05],
[0.52,-1.5],[0.56,-1.45],[0.6,-1.5],[0.64,-1.45],[0.68,-1.5],
[0.48,1.6],[0.53,1.7],[0.57,1.75],[0.62,1.65],[0.66,2.2],[0.71,1.7],[0.55,2.4],[0.6,2.6],[0.65,2.5],[0.69,2.3],[0.77,2.3],
[0.44,-1.05],[0.49,-1.45],[0.54,-1.9],[0.59,-1.65],[0.64,-1.9],[0.7,-1.45],[0.74,-1.6],[0.78,-1.0],[0.58,-2.4],[0.63,-2.45],[0.72,-2.5],
[0.79,0.3],[0.82,-0.1],[0.85,0.8],[0.88,-0.6],[0.8,1.2],[0.77,-0.55],[0.42,-0.15],[0.41,0.75]
];

const nitrLabel = "log(Netincometorev)";
const nitrTicks = [-10, -8, -6, -4, -2, 0, 2];
const nitrFit = [0.22, 0.068];
const nitrSmooth = [[-9.75,0.32],[-7.71,0],[-5.94,-0.18],[-4.61,-0.23],[-3.63,-0.14],[-3.01,0],[-2.66,-0.07],[-2.30,-0.18],[-1.50,-0.09],[-0.62,0.05],[0.27,0.39],[1.16,0.73],[2.09,1.0]];
const nitrPoints = [
[-9.75,0.32],[-7.62,-1.5],[-7.0,3.23],[-6.1,1.57],[-5.80,-0.80],[-5.76,2.82],[-5.67,1.23],[-5.45,0.5],
[-5.10,-2.11],[-5.10,-2.73],[-4.83,-1.36],[-4.78,-1.82],[-4.70,-1.77],[-4.56,-2.73],[-4.54,3.73],
[-4.34,2.20],[-4.21,2.66],[-4.30,1.75],[-4.25,1.07],[-4.43,0.95],[-4.56,-0.52],[-4.52,-0.68],[-4.39,-1.5],[-4.16,-2.34],[-4.08,-2.23],[-4.16,-1.5],
[-3.63,4.36],[-3.41,3.64],[-3.10,4.18],[-2.79,4.48],[-2.75,4.48],[-2.43,4.02],[-2.08,4.02],[-1.64,3.80],[-1.15,3.27],[-1.10,2.89],
[-2.57,-3.55],[-2.30,-3.41],[-3.54,-3.32],[-3.45,-3.25],[-3.19,-2.68],[-3.01,-2.64],[-2.66,-2.86],
[-1.41,-1.5],[-1.46,-2.05],[-1.06,-1.36],[-0.93,-1.36],[-1.02,1.18],[-0.31,-1.09],
[0.31,3.8],[0.23,0.27],[0.8,0.09],[1.69,0.16],[1.82,-0.52],[2.09,2.5],
[-1.9,2.3],[-1.75,1.5],[-1.6,2.0],[-1.5,1.0],[-1.45,2.4],[-1.35,0.5],[-1.3,1.7],[-1.25,2.8],[-1.2,2.5],[-1.55,0.2],[-1.7,-0.5],[-1.45,-0.9],[-1.6,-1.8],[-1.8,-2.3],[-1.35,-0.2],
[-4.4,0.3],[-4.3,-0.9],[-4.2,0.8],[-4.15,-1.9],[-4.05,1.5],[-4.0,-1.2],[-4.5,1.0],[-4.45,-1.6],[-4.6,-0.3],
[-3.3,3.25],[-3.1,3.4],[-2.9,3.2],[-2.7,3.35],[-2.5,3.25],[-2.3,3.4],
[-3.5,2.85],[-3.3,3.0],[-3.1,2.8],[-2.9,2.95],[-2.7,2.85],[-2.5,3.0],[-2.3,2.8],[-2.1,2.95],
[-3.6,2.45],[-3.4,2.6],[-3.2,2.4],[-3.0,2.55],[-2.8,2.45],[-2.6,2.6],[-2.4,2.4],[-2.2,2.55],[-2.0,2.45],
[-3.7,2.05],[-3.5,2.2],[-3.3,2.0],[-3.1,2.15],[-2.9,2.05],[-2.7,2.2],[-2.5,2.0],[-2.3,2.15],[-2.1,2.05],[-1.9,2.2],
[-3.8,1.65],[-3.6,1.8],[-3.4,1.6],[-3.0,1.75],[-2.8,1.65],[-2.6,1.8],[-2.4,1.6],[-2.2,1.75],[-2.0,1.65],[-1.8,1.8],
[-3.9,1.25],[-3.7,1.4],[-3.5,1.2],[-2.9,1.35],[-2.7,1.25],[-2.5,1.4],[-2.3,1.2],[-2.1,1.35],[-1.9,1.25],
[-3.8,0.85],[-3.6,1.0],[-3.3,0.8],[-3.1,0.95],[-2.9,0.85],[-2.7,1.0],[-2.5,0.8],[-2.3,0.95],[-2.1,0.85],[-1.9,1.0],[-1.7,0.85],
[-3.9,0.45],[-3.7,0.6],[-3.5,0.4],[-3.3,0.55],[-3.1,0.45],[-2.9,0.6],[-2.7,0.4],[-2.5,0.55],[-2.3,0.45],[-2.1,0.6],[-1.9,0.4],[-1.7,0.55],
[-4.0,0.05],[-3.8,0.2],[-3.6,0.0],[-3.4,0.15],[-3.2,0.05],[-3.0,0.2],[-2.8,0.0],[-2.6,0.15],[-2.4,0.05],[-2.2,0.2],[-2.0,0.0],[-1.8,0.15],[-1.6,0.05],
[-3.9,-0.35],[-3.7,-0.2],[-3.5,-0.4],[-3.3,-0.25],[-3.1,-0.35],[-2.9,-0.2],[-2.7,-0.4],[-2.5,-0.25],[-2.3,-0.35],[-2.1,-0.2],[-1.9,-0.4],[-1.7,-0.25],
[-4.0,-0.75],[-3.8,-0.6],[-3.6,-0.8],[-3.4,-0.65],[-3.2,-0.75],[-3.0,-0.6],[-2.8,-0.8],[-2.6,-0.65],[-2.4,-0.75],[-2.2,-0.6],[-2.0,-0.8],[-1.8,-0.65],
[-3.9,-1.15],[-3.7,-1.0],[-3.5,-1.2],[-3.3,-1.05],[-3.1,-1.15],[-2.9,-1.0],[-2.7,-1.2],[-2.5,-1.05],[-2.3,-1.15],[-2.1,-1.0],[-1.9,-1.2],[-1.7,-1.05],
[-3.8,-1.55],[-3.6,-1.4],[-3.4,-1.6],[-3.2,-1.45],[-3.0,-1.55],[-2.8,-1.4],[-2.6,-1.6],[-2.4,-1.45],[-2.2,-1.55],[-2.0,-1.4],[-1.8,-1.6],
[-3.7,-1.95],[-3.5,-1.8],[-3.3,-2.0],[-3.1,-1.85],[-2.9,-1.95],[-2.7,-1.8],[-2.5,-2.0],[-2.3,-1.85],[-2.1,-1.95],[-1.9,-1.8],
[-3.6,-2.35],[-3.4,-2.2],[-3.2,-2.4],[-3.0,-2.25],[-2.8,-2.35],[-2.6,-2.2],[-2.4,-2.4],[-2.2,-2.25],[-2.0,-2.35],
[-3.3,-2.75],[-3.1,-2.6],[-2.9,-2.8],[-2.7,-2.65],[-2.5,-2.75],[-2.3,-2.6],
[-3.0,-3.15],[-2.8,-3.0],[-2.6,-3.2],[-2.4,-3.05],
[-3.2,3.1],[-3.0,3.15],[-2.8,3.05],[-2.6,3.1],[-2.4,3.15],
[-3.4,2.7],[-3.2,2.75],[-3.0,2.65],[-2.8,2.7],[-2.6,2.75],[-2.4,2.65],[-2.2,2.7],
[-3.6,2.3],[-3.4,2.35],[-3.2,2.25],[-3.0,2.3],[-2.8,2.35],[-2.6,2.25],[-2.4,2.3],[-2.2,2.35],[-2.0,2.25],
[-3.7,1.9],[-3.5,1.95],[-3.1,1.85],[-2.9,1.9],[-2.7,1.95],[-2.5,1.85],[-2.3,1.9],[-2.1,1.95],[-1.9,1.85],
[-3.8,1.5],[-3.6,1.55],[-2.8,1.45],[-2.6,1.5],[-2.4,1.55],[-2.2,1.45],[-2.0,1.5],[-1.8,1.55],
[-3.7,1.1],[-3.4,1.15],[-3.0,1.05],[-2.8,1.1],[-2.6,1.15],[-2.4,1.05],[-2.2,1.1],[-2.0,1.15],[-1.8,1.05],
[-3.8,0.7],[-3.6,0.75],[-3.4,0.65],[-3.2,0.7],[-3.0,0.75],[-2.8,0.65],[-2.6,0.7],[-2.4,0.75],[-2.2,0.65],[-2.0,0.7],[-1.8,0.75],
[-3.9,0.3],[-3.7,0.35],[-3.5,0.25],[-3.3,0.3],[-3.1,0.35],[-2.9,0.25],[-2.7,0.3],[-2.5,0.35],[-2.3,0.25],[-2.1,0.3],[-1.9,0.35],[-1.7,0.25],
[-3.9,-0.1],[-3.7,-0.05],[-3.5,-0.15],[-3.3,-0.1],[-3.1,-0.05],[-2.9,-0.15],[-2.7,-0.1],[-2.5,-0.05],[-2.3,-0.15],[-2.1,-0.1],[-1.9,-0.05],[-1.7,-0.15],
[-3.9,-0.5],[-3.7,-0.45],[-3.5,-0.55],[-3.3,-0.5],[-3.1,-0.45],[-2.9,-0.55],[-2.7,-0.5],[-2.5,-0.45],[-2.3,-0.55],[-2.1,-0.5],[-1.9,-0.45],
[-3.9,-0.9],[-3.7,-0.85],[-3.5,-0.95],[-3.3,-0.9],[-3.1,-0.85],[-2.9,-0.95],[-2.7,-0.9],[-2.5,-0.85],[-2.3,-0.95],[-2.1,-0.9],[-1.9,-0.85],
[-3.8,-1.3],[-3.6,-1.25],[-3.4,-1.35],[-3.2,-1.3],[-3.0,-1.25],[-2.8,-1.35],[-2.6,-1.3],[-2.4,-1.25],[-2.2,-1.35],[-2.0,-1.3],[-1.8,-1.25],
[-3.7,-1.7],[-3.5,-1.65],[-3.3,-1.75],[-3.1,-1.7],[-2.9,-1.65],[-2.7,-1.75],[-2.5,-1.7],[-2.3,-1.65],[-2.1,-1.75],[-1.9,-1.7],
[-3.6,-2.1],[-3.4,-2.05],[-3.2,-2.15],[-3.0,-2.1],[-2.8,-2.05],[-2.6,-2.15],[-2.4,-2.1],[-2.2,-2.05],[-2.0,-2.15],
[-3.4,-2.5],[-3.2,-2.55],[-3.0,-2.45],[-2.8,-2.5],[-2.6,-2.55],[-2.4,-2.45],[-2.2,-2.5],
[-3.1,-2.9],[-2.9,-2.95],[-2.7,-2.85],[-2.5,-2.9],[-2.3,-2.95],
[-3.4,2.9],[-3.2,2.9],[-3.0,2.9],[-2.8,2.9],[-2.6,2.9],[-2.4,2.9],[-2.2,2.9],
[-3.5,2.5],[-3.3,2.5],[-3.1,2.5],[-2.9,2.5],[-2.7,2.5],[-2.5,2.5],[-2.3,2.5],[-2.1,2.5],
[-3.4,2.1],[-3.2,2.1],[-3.0,2.1],[-2.8,2.1],[-2.6,2.1],[-2.4,2.1],[-2.2,2.1],[-2.0,2.1],
[-3.5,1.7],[-2.9,1.7],[-2.7,1.7],[-2.5,1.7],[-2.3,1.7],[-2.1,1.7],[-1.9,1.7],
[-3.6,1.3],[-3.0,1.3],[-2.8,1.3],[-2.6,1.3],[-2.4,1.3],[-2.2,1.3],[-2.0,1.3],
[-3.7,0.9],[-3.4,0.9],[-3.0,0.9],[-2.8,0.9],[-2.6,0.9],[-2.4,0.9],[-2.2,0.9],[-2.0,0.9],
[-3.6,0.5],[-3.4,0.5],[-3.2,0.5],[-3.0,0.5],[-2.8,0.5],[-2.6,0.5],[-2.4,0.5],[-2.2,0.5],[-2.0,0.5],
[-3.7,0.1],[-3.5,0.1],[-3.3,0.1],[-3.1,0.1],[-2.9,0.1],[-2.7,0.1],[-2.5,0.1],[-2.3,0.1],[-2.1,0.1],[-1.9,0.1],
[-3.6,-0.3],[-3.4,-0.3],[-3.2,-0.3],[-3.0,-0.3],[-2.8,-0.3],[-2.6,-0.3],[-2.4,-0.3],[-2.2,-0.3],[-2.0,-0.3],
[-3.7,-0.7],[-3.5,-0.7],[-3.3,-0.7],[-3.1,-0.7],[-2.9,-0.7],[-2.7,-0.7],[-2.5,-0.7],[-2.3,-0.7],[-2.1,-0.7],[-1.9,-0.7],
[-3.6,-1.1],[-3.4,-1.1],[-3.2,-1.1],[-3.0,-1.1],[-2.8,-1.1],[-2.6,-1.1],[-2.4,-1.1],[-2.2,-1.1],[-2.0,-1.1],
[-3.5,-1.5],[-3.3,-1.5],[-3.1,-1.5],[-2.9,-1.5],[-2.7,-1.5],[-2.5,-1.5],[-2.3,-1.5],[-2.1,-1.5],[-1.9,-1.5],
[-3.4,-1.9],[-3.2,-1.9],[-3.0,-1.9],[-2.8,-1.9],[-2.6,-1.9],[-2.4,-1.9],[-2.2,-1.9],[-2.0,-1.9],
[-3.3,-2.3],[-3.1,-2.3],[-2.9,-2.3],[-2.7,-2.3],[-2.5,-2.3],[-2.3,-2.3],[-2.1,-2.3]
];

const residTicks = [-2, 0, 2, 4];
const residTicksWide = [-4, -2, 0, 2, 4];

// ---- Panel arrangement (3 rows x 2 columns) ----
const panels = [
  { label: btomLabel,   pts: btomPoints,   fit: btomFit,   smooth: btomSmooth,   xTicks: btomTicks,   yTicks: residTicks,     fmt: d => String(d),     col: 0, row: 0 },
  { label: assetsLabel, pts: assetsPoints, fit: assetsFit, smooth: assetsSmooth, xTicks: assetsTicks, yTicks: residTicks,     fmt: d => String(d),     col: 1, row: 0 },
  { label: volLabel,    pts: volPoints,    fit: volFit,    smooth: volSmooth,    xTicks: volTicks,    yTicks: residTicks,     fmt: d => d.toFixed(1),  col: 0, row: 1 },
  { label: liabLabel,   pts: liabPoints,   fit: liabFit,   smooth: liabSmooth,   xTicks: liabTicks,   yTicks: residTicksWide, fmt: d => d.toFixed(1),  col: 1, row: 1 },
  { label: nitrLabel,   pts: nitrPoints,   fit: nitrFit,   smooth: nitrSmooth,   xTicks: nitrTicks,   yTicks: residTicks,     fmt: d => String(d),     col: 0, row: 2 }
];

const FONT = "'Liberation Sans', Arial, Helvetica, sans-serif";
const colX = [91.7, 699.7], plotW = 478.3;
const rowY = [60, 316, 572], plotH = 127;
const colShift = 608;

// R-style axis range: data extent widened by 4% on each side
function padded(ext) {
  const r = ext[1] - ext[0];
  return [ext[0] - 0.04 * r, ext[1] + 0.04 * r];
}

const svg = d3.select("#chart");

svg.append("text")
  .attr("x", 614).attr("y", 33)
  .attr("text-anchor", "middle")
  .style("font-family", FONT).style("font-size", "30px")
  .attr("fill", "#000")
  .text(chartTitle);

panels.forEach((p, i) => {
  const x0 = colX[p.col], y0 = rowY[p.row];
  const x = d3.scaleLinear().domain(padded(d3.extent(p.pts, d => d[0]))).range([x0, x0 + plotW]);
  const y = d3.scaleLinear().domain(padded(d3.extent(p.pts, d => d[1]))).range([y0 + plotH, y0]);
  const g = svg.append("g");

  const clipId = "plotclip" + i;
  svg.append("clipPath").attr("id", clipId)
    .append("rect").attr("x", x0).attr("y", y0).attr("width", plotW).attr("height", plotH);
  const inner = g.append("g").attr("clip-path", `url(#${clipId})`);

  // reference grid at tick positions
  inner.selectAll("line.gx").data(p.xTicks).join("line").attr("class", "gx")
    .attr("x1", d => x(d)).attr("x2", d => x(d)).attr("y1", y0).attr("y2", y0 + plotH)
    .attr("stroke", "#d3d3d3").attr("stroke-width", 2);
  inner.selectAll("line.gy").data(p.yTicks).join("line").attr("class", "gy")
    .attr("y1", d => y(d)).attr("y2", d => y(d)).attr("x1", x0).attr("x2", x0 + plotW)
    .attr("stroke", "#d3d3d3").attr("stroke-width", 2);

  // partial residuals
  inner.selectAll("circle").data(p.pts).join("circle")
    .attr("cx", d => x(d[0])).attr("cy", d => y(d[1])).attr("r", 3.5)
    .attr("fill", "none").attr("stroke", "#000").attr("stroke-width", 2);

  // linear component (dashed blue)
  const [b0, b1] = p.fit;
  const xd = x.domain();
  inner.append("line")
    .attr("x1", x(xd[0])).attr("y1", y(b0 + b1 * xd[0]))
    .attr("x2", x(xd[1])).attr("y2", y(b0 + b1 * xd[1]))
    .attr("stroke", "#0000ff").attr("stroke-width", 3.2).attr("stroke-dasharray", "13,7");

  // loess smooth (magenta)
  inner.append("path")
    .attr("d", d3.line().x(d => x(d[0])).y(d => y(d[1])).curve(d3.curveMonotoneX)(p.smooth))
    .attr("fill", "none").attr("stroke", "#ff00ff").attr("stroke-width", 3);

  // plot frame
  g.append("rect").attr("x", x0).attr("y", y0).attr("width", plotW).attr("height", plotH)
    .attr("fill", "none").attr("stroke", "#000").attr("stroke-width", 2);

  // x axis
  const ax = g.append("g").attr("transform", `translate(0,${y0 + plotH})`)
    .call(d3.axisBottom(x).tickValues(p.xTicks).tickFormat(p.fmt).tickSize(10).tickSizeOuter(0).tickPadding(17));
  ax.select(".domain").remove();
  ax.selectAll("line").attr("stroke-width", 1.5);
  ax.selectAll("text").style("font-family", FONT).style("font-size", "16px").attr("fill", "#000");

  // y axis with labels parallel to the axis
  const ay = g.append("g").attr("transform", `translate(${x0},0)`)
    .call(d3.axisLeft(y).tickValues(p.yTicks).tickFormat(d => String(d)).tickSize(10).tickSizeOuter(0));
  ay.select(".domain").remove();
  ay.selectAll("line").attr("stroke-width", 1.5);
  ay.selectAll("text")
    .attr("transform", "rotate(-90)")
    .attr("x", 0).attr("y", -24).attr("dy", null)
    .attr("text-anchor", "middle")
    .style("font-family", FONT).style("font-size", "16px").attr("fill", "#000");

  // axis titles
  g.append("text")
    .attr("x", x0 + plotW / 2).attr("y", y0 + plotH + 82)
    .attr("text-anchor", "middle")
    .style("font-family", FONT).style("font-size", "17px").attr("fill", "#000")
    .text(p.label);

  g.append("text")
    .attr("transform", `translate(${25.5 + p.col * colShift},${y0 + 171}) rotate(-90)`)
    .attr("text-anchor", "start")
    .style("font-family", FONT).style("font-size", "17px").attr("fill", "#000")
    .text(yLabel);
});
</script>
</body>
</html>
